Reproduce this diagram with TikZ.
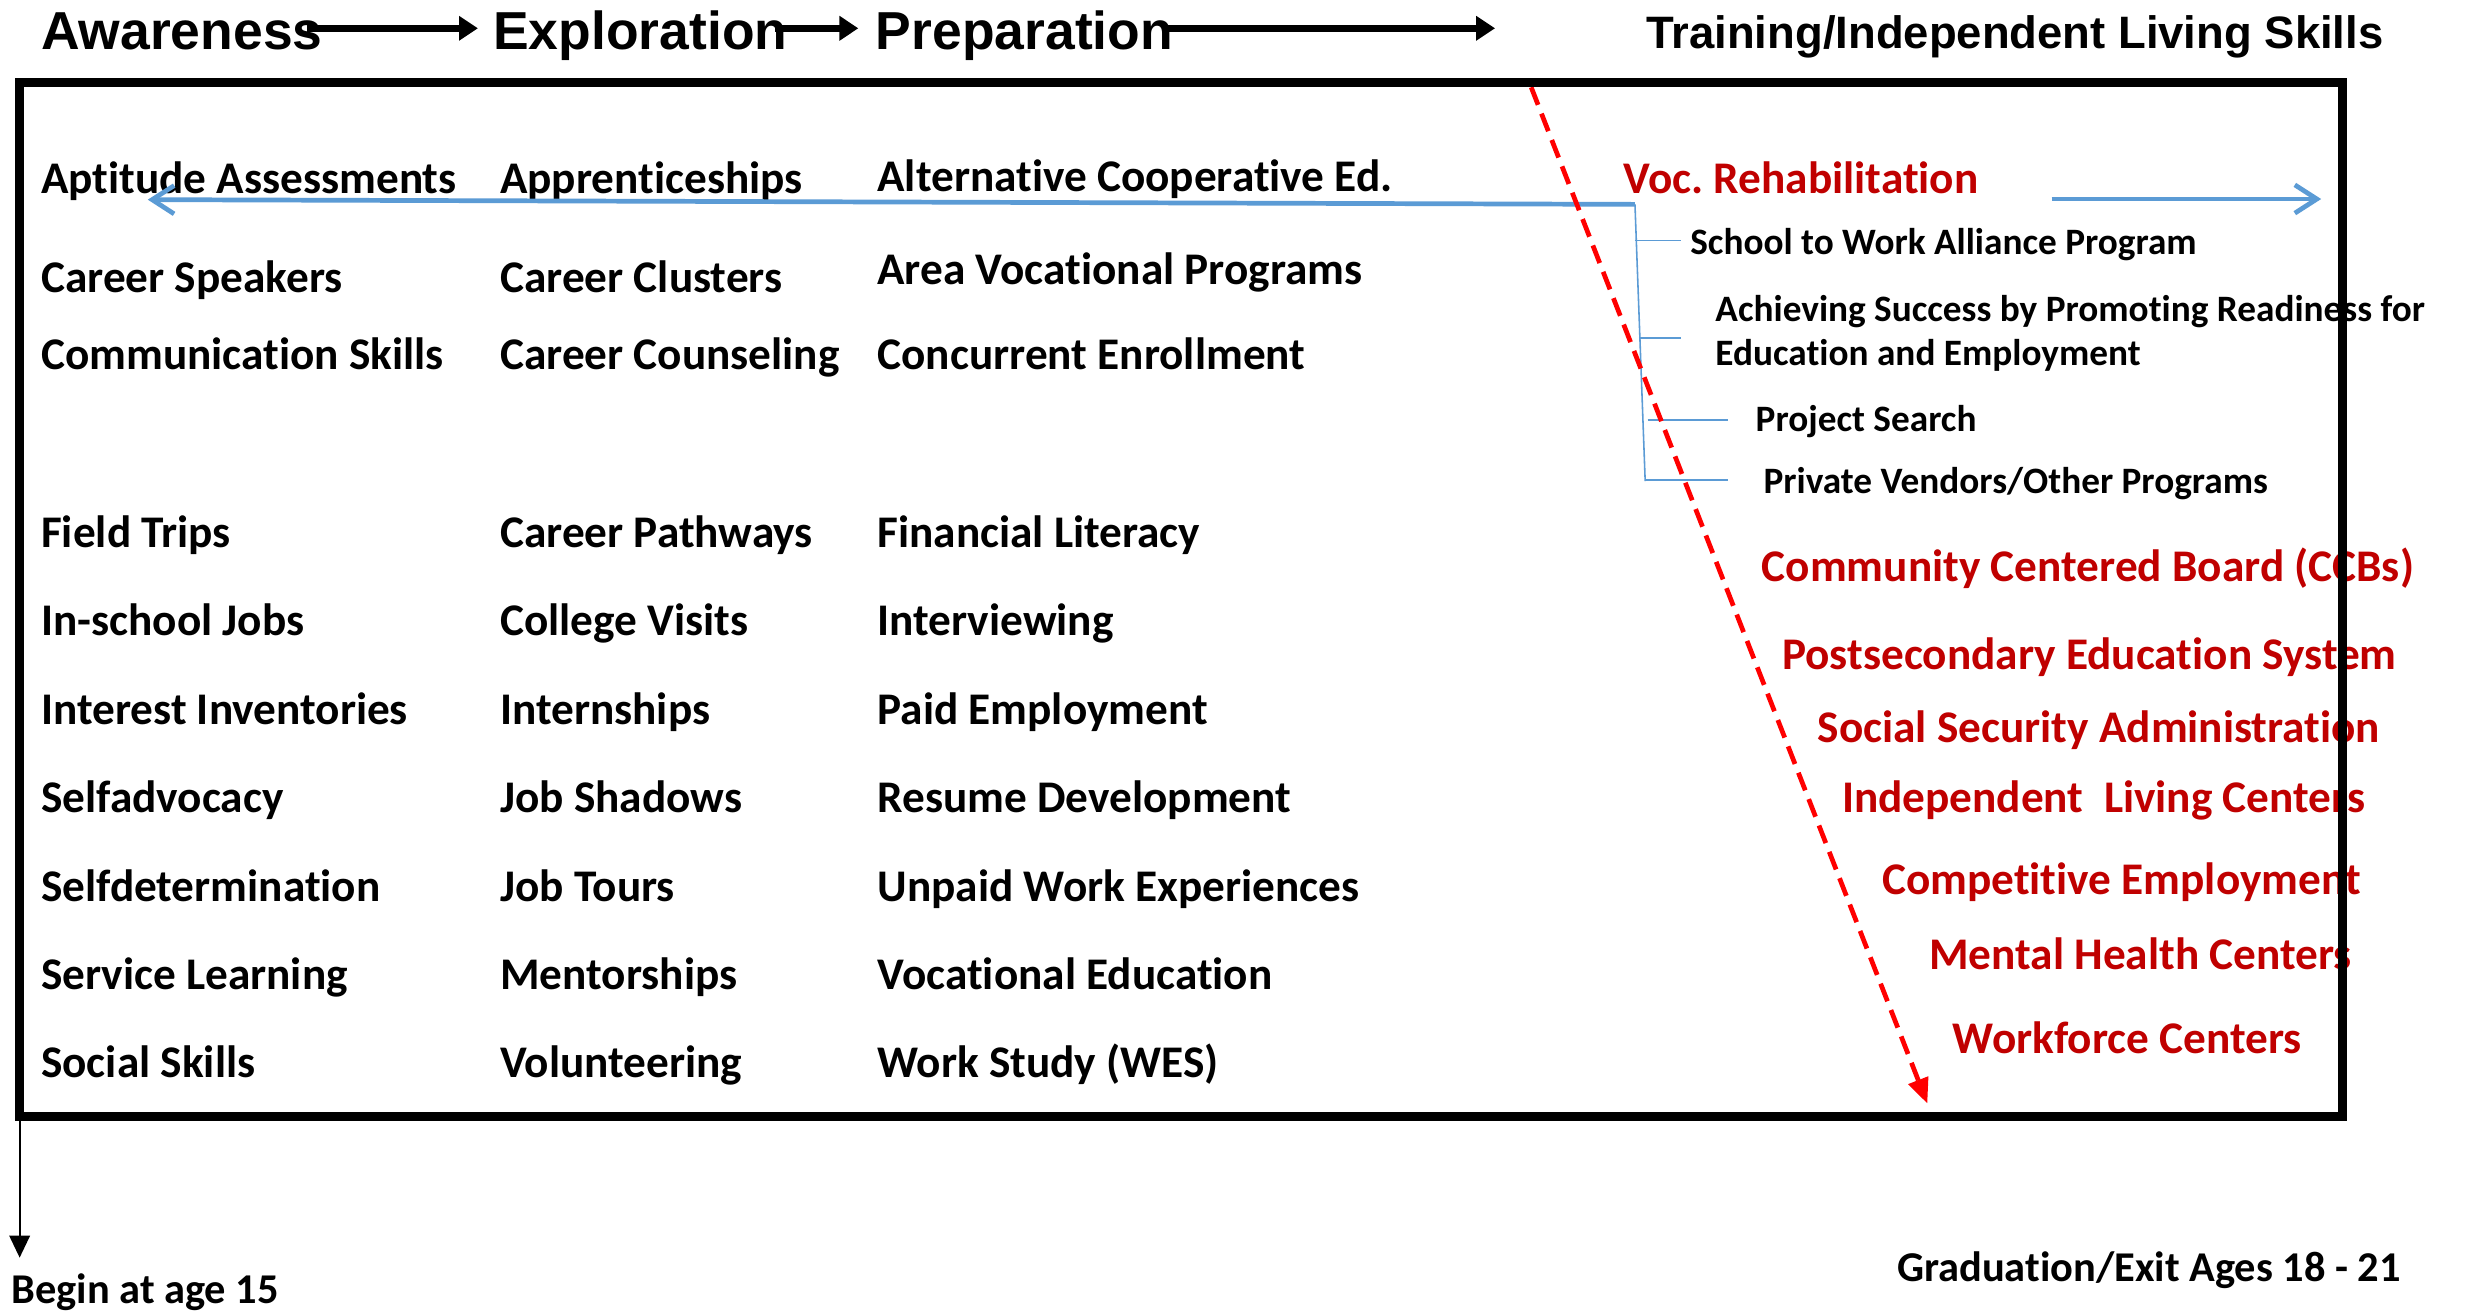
\documentclass[tikz,border=0pt]{standalone}
\usepackage{fontspec}
\setmainfont{Carlito}[Ligatures={NoCommon}]
\newfontfamily\hdfont{Liberation Sans}
\usetikzlibrary{arrows.meta}
\definecolor{vrblue}{HTML}{5B9BD5}
\definecolor{agencyred}{HTML}{C00000}
\definecolor{dashred}{HTML}{FF0000}
\frenchspacing
\begin{document}
\begin{tikzpicture}[x=1pt,y=-1pt,
  item/.style={anchor=base west, inner sep=0pt, font=\bfseries\fontsize{28.8}{30}\selectfont},
  subitem/.style={anchor=base west, inner sep=0pt, font=\bfseries\fontsize{23.7}{25}\selectfont},
  agency/.style={item, text=agencyred},
  foot/.style={anchor=base west, inner sep=0pt, font=\bfseries\fontsize{27}{29}\selectfont},
  head/.style={anchor=base west, inner sep=0pt, font=\hdfont\bfseries\fontsize{34}{36}\selectfont},
  headsmall/.style={anchor=base west, inner sep=0pt, font=\hdfont\bfseries\fontsize{28.9}{30}\selectfont},
  phase/.style={line width=4.8pt, -{Triangle[length=12pt,width=15pt]}},
  bluearrow/.style={vrblue, line width=3pt, -{Straight Barb[length=14pt,width=18pt,line width=3pt]}},
  thinblue/.style={vrblue, line width=1pt},
  reddash/.style={dashred, line width=3pt, dash pattern=on 12pt off 6pt, -{Triangle[length=16pt,width=13pt]}},
  frame/.style={line width=5.5pt},
  downarrow/.style={line width=1.4pt, -{Triangle[length=14pt,width=13pt]}}
]
\useasboundingbox[fill=white] (0,0) rectangle (1568,835);

% headings
\node[head] (aw) at (26,31.8) {Awareness};
\node[head] (ex) at (313.6,31.8) {Exploration};
\node[head] (pr) at (557,31.8) {Preparation};
\node[headsmall] (tr) at (1047,30.7) {Training/Independent Living Skills};
\coordinate (a1s) at (195,18);
\coordinate (a1e) at (304,18);
\coordinate (a2s) at (493,18);
\coordinate (a2e) at (546,18);
\coordinate (a3s) at (740,18);
\coordinate (a3e) at (951,18);
\draw[phase] (a1s) -- (a1e);
\draw[phase] (a2s) -- (a2e);
\draw[phase] (a3s) -- (a3e);

% column 1
\node[item] (c1a) at (26,123) {Aptitude Assessments};
\node[item] (c1b) at (26,186) {Career Speakers};
\node[item] (c1c) at (26,235) {Communication Skills};
\node[item] (c1d) at (26,348) {Field Trips};
\node[item] (c1e) at (26,404.5) {In-school Jobs};
\node[item] (c1f) at (26,461) {Interest Inventories};
\node[item] (c1g) at (26,517) {Selfadvocacy};
\node[item] (c1h) at (26,573.5) {Selfdetermination};
\node[item] (c1i) at (26,629.5) {Service Learning};
\node[item] (c1j) at (26,685.5) {Social Skills};

% column 2
\node[item] (c2a) at (318,123) {Apprenticeships};
\node[item] (c2b) at (318,186) {Career Clusters};
\node[item] (c2c) at (318,235) {Career Counseling};
\node[item] (c2d) at (318,348) {Career Pathways};
\node[item] (c2e) at (318,404.5) {College Visits};
\node[item] (c2f) at (318,461) {Internships};
\node[item] (c2g) at (318,517) {Job Shadows};
\node[item] (c2h) at (318,573.5) {Job Tours};
\node[item] (c2i) at (318,629.5) {Mentorships};
\node[item] (c2j) at (318,685.5) {Volunteering};

% column 3
\node[item] (c3a) at (558,122) {Alternative Cooperative Ed.};
\node[item] (c3b) at (558,181) {Area Vocational Programs};
\node[item] (c3c) at (558,235) {Concurrent Enrollment};
\node[item] (c3d) at (558,348) {Financial Literacy};
\node[item] (c3e) at (558,404.5) {Interviewing};
\node[item] (c3f) at (558,461) {Paid Employment};
\node[item] (c3g) at (558,517) {Resume Development};
\node[item] (c3h) at (558,573.5) {Unpaid Work Experiences};
\node[item] (c3i) at (558,629.5) {Vocational Education};
\node[item] (c3j) at (558,685.5) {Work Study (WES)};

% training column
\node[agency] (vr) at (1032.5,123) {Voc. Rehabilitation};
\node[subitem] (s1) at (1075,161.6) {School to Work Alliance Program};
\node[subitem] (s2) at (1091,204.7) {Achieving Success by Promoting Readiness for};
\node[subitem] (s2b) at (1091,232.8) {Education and Employment};
\node[subitem] (s3) at (1116.6,274.6) {Project Search};
\node[subitem] (s4) at (1121.6,313.8) {Private Vendors/Other Programs};

\node[agency] (g1) at (1120.5,369.6) {Community Centered Board (CCBs)};
\node[agency] (g2) at (1133.5,426) {Postsecondary Education System};
\node[agency] (g3) at (1156,472) {Social Security Administration};
\node[agency] (g4) at (1171.5,516.6) {Independent\ \ Living Centers};
\node[agency] (g5) at (1197,569) {Competitive Employment};
\node[agency] (g6) at (1227,617) {Mental Health Centers};
\node[agency] (g7) at (1242,670) {Workforce Centers};

% blue connectors
\coordinate (bj) at (1040,130);
\coordinate (bl) at (94,127);
\coordinate (bre) at (1305,126.6);
\coordinate (brt) at (1476.5,126.6);
\draw[bluearrow] (bj) -- (bl);
\draw[bluearrow] (bre) -- (brt);
\coordinate (bb) at (1046.5,306);
\draw[thinblue] (bj) -- (bb);
\coordinate (t1a) at (1040,153);   \coordinate (t1b) at (1069.5,153);
\coordinate (t2a) at (1042.5,215); \coordinate (t2b) at (1069.5,215);
\coordinate (t3a) at (1048,267);   \coordinate (t3b) at (1099,267);
\coordinate (t4a) at (1047,305.5); \coordinate (t4b) at (1099,305.5);
\draw[thinblue] (t1a) -- (t1b);
\draw[thinblue] (t2a) -- (t2b);
\draw[thinblue] (t3a) -- (t3b);
\draw[thinblue] (t4a) -- (t4b);

% red dashed arrow
\coordinate (rs) at (974,55.5);
\coordinate (re) at (1226,702);
\draw[reddash] (rs) -- (re);

% frame
\coordinate (fnw) at (12.5,52.5);
\coordinate (fse) at (1490,710);
\draw[frame] (fnw) rectangle (fse);

% begin arrow
\coordinate (ds) at (12.5,712);
\coordinate (de) at (12.5,800);
\draw[downarrow] (ds) -- (de);
\node[foot] (beg) at (7,829) {Begin at age 15};
\node[foot] (grad) at (1206.5,815) {Graduation/Exit Ages 18 - 21};
\end{tikzpicture}
\end{document}
